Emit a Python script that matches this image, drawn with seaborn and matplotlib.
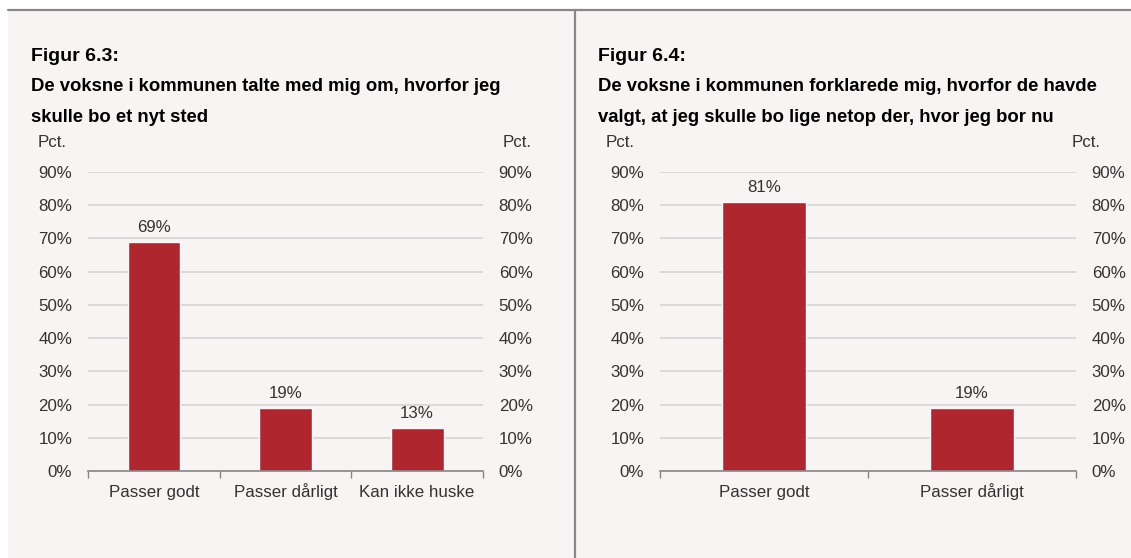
import numpy as np
import pandas as pd
import matplotlib
matplotlib.use("Agg")
import matplotlib.pyplot as plt
from matplotlib.ticker import FixedLocator, NullFormatter, FixedFormatter
import seaborn as sns

# Data
cats_63 = ["Passer godt", "Passer dårligt", "Kan ikke huske"]
vals_63 = [69, 19, 13]
cats_64 = ["Passer godt", "Passer dårligt"]
vals_64 = [81, 19]
y_ticks = list(range(0, 100, 10))

title_63 = "Figur 6.3:"
sub_63 = ["De voksne i kommunen talte med mig om, hvorfor jeg",
          "skulle bo et nyt sted"]
title_64 = "Figur 6.4:"
sub_64 = ["De voksne i kommunen forklarede mig, hvorfor de havde",
          "valgt, at jeg skulle bo lige netop der, hvor jeg bor nu"]

BG = "#f7f4f3"
BAR = "#b0262f"
GRID = "#d4d4d4"
FRAME = "#878787"
TXT = "#333333"
FS = 12.2      # tick / label text
FS_T = 14      # "Figur" line
FS_S = 13.35   # subtitle lines

W, H = 1131, 558

sns.set_style("white")
plt.rcParams["font.family"] = ["Liberation Sans", "DejaVu Sans"]

fig = plt.figure(figsize=(W / 100, H / 100), dpi=100)
fig.patch.set_facecolor("white")


def px_rect(x0, y0, x1, y1):
    # pixel box (top-left origin) -> figure fraction
    return [x0 / W, 1 - y1 / H, (x1 - x0) / W, (y1 - y0) / H]


# panel backgrounds and frame lines
bg = fig.add_axes(px_rect(8, 10, W, H), zorder=-5)
bg.set_facecolor(BG)
bg.set_xticks([])
bg.set_yticks([])
for s in bg.spines.values():
    s.set_visible(False)
fig.add_artist(plt.Line2D([8 / W, 1], [1 - 10 / H, 1 - 10 / H], color=FRAME, lw=1.6))
fig.add_artist(plt.Line2D([575 / W, 575 / W], [0, 1 - 10 / H], color=FRAME, lw=1.6))


def draw_panel(box, cats, vals, title, sub, tx, pct_left, pct_right):
    ax = fig.add_axes(px_rect(*box))
    df = pd.DataFrame({"cat": cats, "val": vals})
    sns.barplot(data=df, x="cat", y="val", ax=ax, color=BAR, width=0.4,
                saturation=1, zorder=3)
    ax.set_facecolor("none")
    n = len(cats)
    ax.set_xlim(-0.5, n - 0.5)
    ax.set_ylim(0, 90)
    ax.set_xlabel("")
    ax.set_ylabel("")
    ax.set_yticks(y_ticks)
    ax.set_yticklabels([f"{t}%" for t in y_ticks])
    ax.grid(axis="y", color=GRID, lw=1.2, zorder=0)
    ax.tick_params(axis="y", length=0, pad=11.3, labelsize=FS, labelcolor=TXT,
                   labelright=True, right=False, left=False)
    # category boundaries as ticks, labels on minor ticks at centres
    ax.xaxis.set_major_locator(FixedLocator(np.arange(n + 1) - 0.5))
    ax.xaxis.set_major_formatter(NullFormatter())
    ax.xaxis.set_minor_locator(FixedLocator(np.arange(n)))
    ax.xaxis.set_minor_formatter(FixedFormatter(cats))
    ax.tick_params(axis="x", which="major", length=5, color=FRAME, width=1,
                   direction="out", bottom=True)
    ax.tick_params(axis="x", which="minor", length=0, pad=19, labelsize=FS,
                   labelcolor=TXT)
    for lab in ax.xaxis.get_minorticklabels():
        lab.set_va("baseline")
    for s in ["top", "left", "right"]:
        ax.spines[s].set_visible(False)
    ax.spines["bottom"].set_color(FRAME)
    ax.spines["bottom"].set_linewidth(1.2)
    ax.spines["bottom"].set_zorder(4)
    for c in ax.containers:
        ax.bar_label(c, labels=[f"{v}%" for v in vals], padding=5,
                     fontsize=FS, color=TXT)

    fig.text(tx / W, 1 - 61 / H, title, fontsize=FS_T, fontweight="bold",
             va="baseline", ha="left", color="black")
    for i, line in enumerate(sub):
        fig.text(tx / W, 1 - (91 + 31 * i) / H, line, fontsize=FS_S,
                 fontweight="bold", va="baseline", ha="left", color="black")
    fig.text(pct_left / W, 1 - 142 / H, "Pct.", fontsize=FS, color=TXT,
             va="center", ha="left")
    fig.text(pct_right / W, 1 - 142 / H, "Pct.", fontsize=FS, color=TXT,
             va="center", ha="right")
    return ax


draw_panel((88, 172, 483, 471), cats_63, vals_63, title_63, sub_63, 31, 38, 532)
draw_panel((660, 172, 1076, 471), cats_64, vals_64, title_64, sub_64, 598, 606, 1101)

fig.savefig("out.png", dpi=100, facecolor=fig.get_facecolor())
